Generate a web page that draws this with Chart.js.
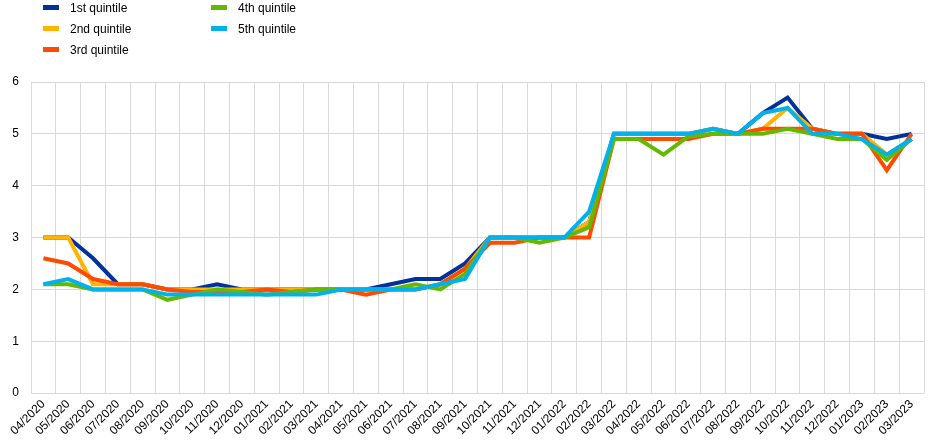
<!DOCTYPE html>
<html>
<head>
<meta charset="utf-8">
<script src="https://cdn.jsdelivr.net/npm/chart.js@4"></script>
<style>
  html, body { margin: 0; padding: 0; background: #fff; }
  #wrap { position: relative; width: 948px; height: 448px; font-family: Arial, "Liberation Sans", sans-serif; }
  #legend { position: absolute; left: 43px; top: 0; font-size: 12px; color: #000; }
  .item { position: absolute; white-space: nowrap; height: 16px; line-height: 16px; }
  .item span { display: inline-block; width: 16px; height: 5px; vertical-align: middle; margin-right: 11px; position: relative; top: -1px; }
</style>
</head>
<body>
<div id="wrap">
  <canvas id="chart" width="948" height="448"></canvas>
  <div id="legend"></div>
</div>
<script>
const months = ['04/2020','05/2020','06/2020','07/2020','08/2020','09/2020','10/2020','11/2020','12/2020',
  '01/2021','02/2021','03/2021','04/2021','05/2021','06/2021','07/2021','08/2021','09/2021','10/2021','11/2021','12/2021',
  '01/2022','02/2022','03/2022','04/2022','05/2022','06/2022','07/2022','08/2022','09/2022','10/2022','11/2022','12/2022',
  '01/2023','02/2023','03/2023']

const q1 = [3.0,3.0,2.6,2.1,2.1,2.0,2.0,2.1,2.0, 2.0,2.0,2.0,2.0,2.0,2.1,2.2,2.2,2.5,3.0,3.0,3.0, 3.0,3.3,5.0,5.0,5.0,5.0,5.1,5.0,5.4,5.7,5.1,5.0, 5.0,4.9,5.0]
const q2 = [3.0,3.0,2.1,2.1,2.1,2.0,2.0,2.0,2.0, 2.0,2.0,2.0,2.0,2.0,2.0,2.0,2.1,2.4,3.0,3.0,3.0, 3.0,3.3,5.0,5.0,5.0,5.0,5.1,5.0,5.1,5.5,5.1,5.0, 5.0,4.6,4.9]
const q3 = [2.6,2.5,2.2,2.1,2.1,2.0,1.95,1.95,1.95, 2.0,1.95,2.0,2.0,1.9,2.0,2.0,2.1,2.4,2.9,2.9,3.0, 3.0,3.0,4.9,4.9,4.9,4.9,5.0,5.0,5.1,5.1,5.1,5.0, 5.0,4.3,5.0]
const q4 = [2.1,2.1,2.0,2.0,2.0,1.8,1.9,2.0,1.95, 1.9,1.95,2.0,2.0,2.0,2.0,2.1,2.0,2.3,3.0,3.0,2.9, 3.0,3.2,4.9,4.9,4.6,4.95,5.0,5.0,5.0,5.1,5.0,4.9, 4.9,4.5,4.9]
const q5 = [2.1,2.2,2.0,2.0,2.0,1.9,1.9,1.9,1.9, 1.9,1.9,1.9,2.0,2.0,2.0,2.0,2.1,2.2,3.0,3.0,3.0, 3.0,3.5,5.0,5.0,5.0,5.0,5.1,5.0,5.4,5.5,5.0,5.0, 4.9,4.6,4.9]

const seriesNames = ['1st quintile','2nd quintile','3rd quintile','4th quintile','5th quintile']
const seriesColors = ['#003299','#ffb400','#ff4b00','#65b800','#00b1ea']
const seriesData = [q1, q2, q3, q4, q5]

// legend laid out in columns like the original: 1st-3rd left, 4th-5th right
const legend = document.getElementById('legend')
seriesNames.forEach((name, i) => {
  const el = document.createElement('div')
  el.className = 'item'
  el.style.left = (i < 3 ? 0 : 168) + 'px'
  el.style.top = ((i % 3) * 21) + 'px'
  el.innerHTML = '<span style="background:' + seriesColors[i] + '"></span>' + name
  legend.appendChild(el)
})

const ctx = document.getElementById('chart')
new Chart(ctx, {
  type: 'line',
  data: {
    labels: months,
    datasets: seriesData.map((d, i) => ({
      label: seriesNames[i],
      data: d,
      borderColor: seriesColors[i],
      backgroundColor: seriesColors[i],
      borderWidth: 4,
      pointRadius: 0,
      tension: 0,
      order: 5 - i // last series on top
    }))
  },
  options: {
    responsive: false,
    animation: false,
    layout: { padding: { top: 82, right: 24, left: 0, bottom: 6 } },
    plugins: { legend: { display: false }, tooltip: { enabled: false } },
    scales: {
      x: {
        offset: true,
        grid: { offset: true, color: '#d9d9d9', drawTicks: false },
        border: { display: false },
        ticks: {
          autoSkip: false, minRotation: 45, maxRotation: 45, padding: 4,
          color: '#000', font: { family: 'Arial, "Liberation Sans"', size: 12 }
        }
      },
      y: {
        min: 0, max: 6,
        afterFit: s => { s.width = 31 },
        grid: { color: '#d9d9d9', drawTicks: false },
        border: { display: false },
        ticks: {
          stepSize: 1, padding: 12,
          color: '#000', font: { family: 'Arial, "Liberation Sans"', size: 12 }
        }
      }
    }
  }
})
</script>
</body>
</html>
